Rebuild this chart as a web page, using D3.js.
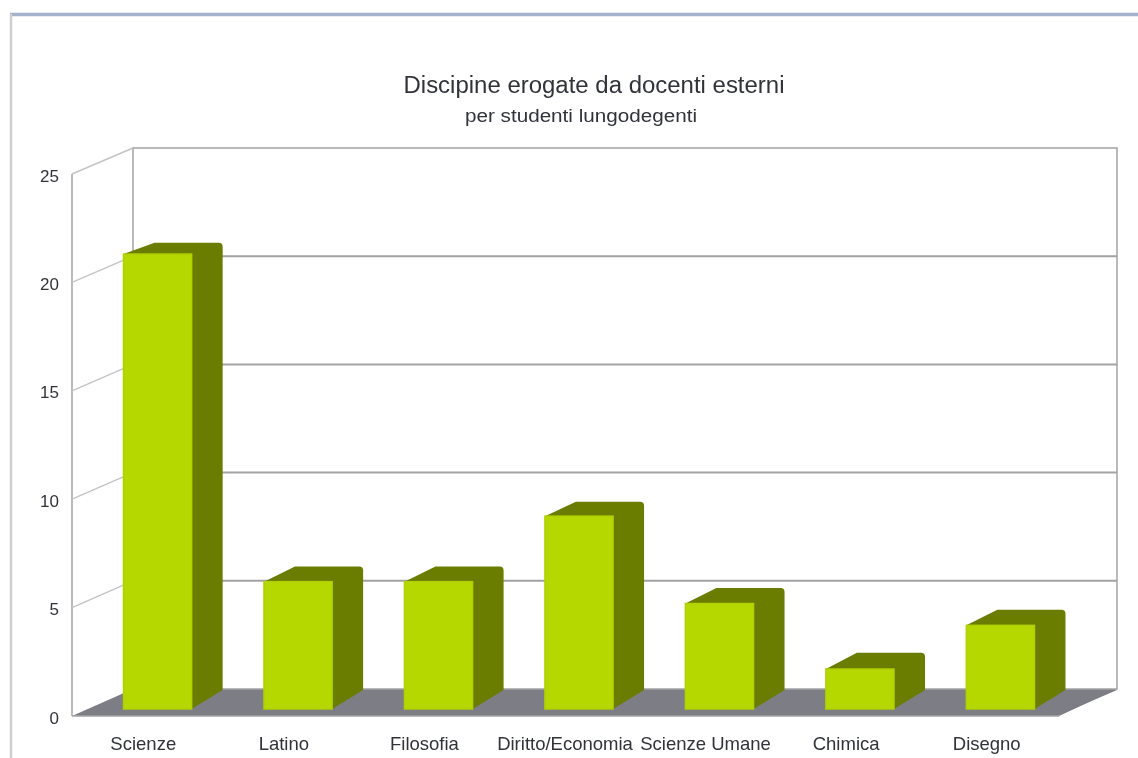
<!DOCTYPE html>
<html><head><meta charset="utf-8">
<style>html,body{margin:0;padding:0;background:#fff}svg{display:block}text{font-family:"Liberation Sans",Arial,sans-serif;fill:#30333a}</style>
<script src="https://d3js.org/d3.v7.min.js"></script></head><body>
<script>
const categories=["Scienze","Latino","Filosofia","Diritto/Economia","Scienze Umane","Chimica","Disegno"];
const values=[21,6,6,9,5,2,4];
const tickValues=[0,5,10,15,20,25];
const titleText="Discipine erogate da docenti esterni";
const subtitleText="per studenti lungodegenti";

const svg=d3.select("body").append("svg").attr("width",1138).attr("height",758);
const defs=svg.append("defs");
defs.append("filter").attr("id","soft").attr("x","-2%").attr("y","-2%").attr("width","104%").attr("height","104%")
  .append("feGaussianBlur").attr("stdDeviation",0.7);
const g=svg.append("g").attr("filter","url(#soft)");

const wallBack=d3.scaleLinear().domain([0,25]).range([689,148]);
const wallFront=d3.scaleLinear().domain([0,25]).range([716,174]);
const barFront=d3.scaleLinear().domain([0,25]).range([712.7,166.7]);
const barBack=d3.scaleLinear().domain([0,25]).range([696,156.5]);
const x=d3.scaleBand().domain(categories).range([72,1056]).paddingInner(0.515).paddingOuter(0.26);
const labelX=d3.scaleBand().domain(categories).range([73,1057]);
const grid="#a3a3a5";

// page frame
g.append("line").attr("x1",10).attr("x2",1138).attr("y1",14.5).attr("y2",14.5).attr("stroke","#a5b2cc").attr("stroke-width",3.5);
g.append("line").attr("x1",11).attr("x2",11).attr("y1",14).attr("y2",758).attr("stroke","#cfcfcf").attr("stroke-width",2.5);

// floor
const xF0=72,xF1=1059,xB0=133,xB1=1117;
g.append("path").attr("fill","#7d7d86")
  .attr("d",d3.line()([[xF0,wallFront(0)],[xB0,wallBack(0)],[xB1,wallBack(0)],[xF1,wallFront(0)]])+"Z");

// back wall and left wall
g.append("rect").attr("x",xB0).attr("y",wallBack(25)).attr("width",xB1-xB0).attr("height",wallBack(0)-wallBack(25))
  .attr("fill","#fff").attr("stroke",grid).attr("stroke-width",1.5);
g.append("line").attr("x1",xF0).attr("x2",xF0).attr("y1",wallFront(25)).attr("y2",wallFront(0)).attr("stroke",grid).attr("stroke-width",1.5);
g.append("line").attr("x1",xF0).attr("x2",xF1).attr("y1",wallFront(0)).attr("y2",wallFront(0)).attr("stroke",grid).attr("stroke-width",1.5);
g.append("path").attr("fill","#7d7d86")
  .attr("d",d3.line()([[xF0+4,wallFront(0)-1],[xB0,wallBack(0)+1],[xB1,wallBack(0)+1],[xF1,wallFront(0)-1]])+"Z");

// gridlines
g.selectAll("line.grid").data(tickValues.filter(v=>v>0&&v<25)).join("line").attr("class","grid")
  .attr("x1",xB0).attr("x2",xB1).attr("y1",d=>wallBack(d)).attr("y2",d=>wallBack(d))
  .attr("stroke",grid).attr("stroke-width",2);
g.selectAll("line.side").data(tickValues.filter(v=>v>0)).join("line").attr("class","side")
  .attr("x1",xF0).attr("x2",xB0).attr("y1",d=>wallFront(d)).attr("y2",d=>wallBack(d))
  .attr("stroke","#c4c4c6").attr("stroke-width",1.4);

// y tick labels
g.selectAll("text.yt").data(tickValues).join("text").attr("class","yt")
  .attr("x",59).attr("y",d=>wallFront(d)+7.5).attr("text-anchor","end").attr("font-size",17).text(d=>d);

// bars
const depth=31, shift=15, baseFront=709, baseBack=690;
const bars=g.selectAll("g.bar").data(categories.map((c,i)=>({c,v:values[i]}))).join("g").attr("class","bar");
bars.append("path").attr("fill","#6b7d00").attr("d",d=>{
  const l=x(d.c)+shift, r=l+x.bandwidth(), t=barFront(d.v), tb=barBack(d.v);
  const p=d3.path();
  p.moveTo(l,t); p.lineTo(l+depth,tb); p.lineTo(r+depth-4,tb);
  p.quadraticCurveTo(r+depth,tb,r+depth,tb+4);
  p.lineTo(r+depth,baseBack); p.lineTo(r,baseFront); p.lineTo(r,t); p.closePath();
  return p.toString();
});
bars.append("rect").attr("x",d=>x(d.c)+shift).attr("y",d=>barFront(d.v))
  .attr("width",x.bandwidth()).attr("height",d=>baseFront-barFront(d.v))
  .attr("fill","#b5d900").attr("stroke","#b0d000").attr("stroke-width",1.5);

// category labels
g.selectAll("text.xt").data(categories).join("text").attr("class","xt")
  .attr("x",d=>labelX(d)+labelX.bandwidth()/2).attr("y",750).attr("text-anchor","middle")
  .attr("font-size",18.5).text(d=>d);

// titles
g.append("text").attr("x",594).attr("y",93).attr("text-anchor","middle").attr("font-size",23).attr("textLength",381).attr("lengthAdjust","spacingAndGlyphs").text(titleText);
g.append("text").attr("x",581).attr("y",122).attr("text-anchor","middle").attr("font-size",18).attr("textLength",232).attr("lengthAdjust","spacingAndGlyphs").text(subtitleText);
</script></body></html>
